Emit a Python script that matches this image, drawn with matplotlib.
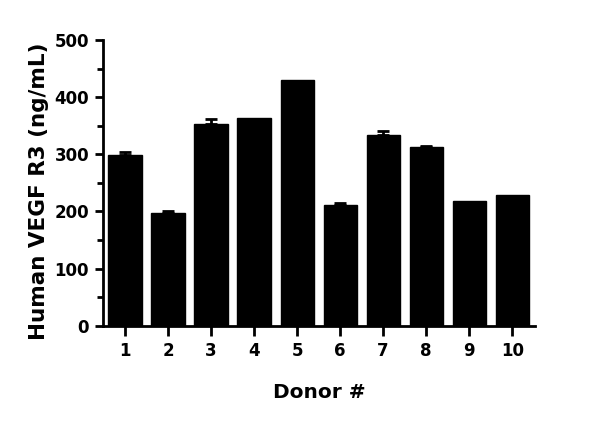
import numpy as np
from matplotlib import pyplot as plt
from matplotlib.ticker import MultipleLocator

# Values
donors = ['1', '2', '3', '4', '5', '6', '7', '8', '9', '10']
vegf_r3 = [298, 197, 353, 363, 430, 211, 334, 312, 218, 229]
vegf_err = [6, 3, 8, 0, 0, 3, 7, 3, 0, 0]

plt.rcParams['font.family'] = ['DejaVu Sans']
plt.rcParams['font.weight'] = 'bold'


def main():
    fig = plt.figure(figsize=(6, 4.24), dpi=100)
    ax = fig.add_axes([0.1717, 0.2318, 0.72, 0.674])

    x = np.arange(1, len(donors) + 1)
    ax.bar(x, vegf_r3, width=0.77, color='black', edgecolor='black', zorder=2)

    # only draw error bars where there is an error
    err = np.array(vegf_err, dtype=float)
    has_err = err > 0
    yerr = np.vstack([np.zeros(has_err.sum()), err[has_err]])
    ax.errorbar(x[has_err], np.array(vegf_r3)[has_err], yerr=yerr, fmt='none',
                ecolor='black', elinewidth=2, capsize=4.5, capthick=2, zorder=1)

    ax.set_xlim(0.49, 10.53)
    ax.set_ylim(0, 500)
    ax.set_xticks(x)
    ax.set_xticklabels(donors)
    ax.yaxis.set_major_locator(MultipleLocator(100))
    ax.yaxis.set_minor_locator(MultipleLocator(50))

    for side in ['top', 'right']:
        ax.spines[side].set_visible(False)
    for side in ['left', 'bottom']:
        ax.spines[side].set_linewidth(2)

    ax.tick_params(axis='both', which='major', length=6, width=2, labelsize=12, pad=4)
    ax.tick_params(axis='y', which='minor', length=4, width=2)
    ax.tick_params(axis='x', which='major', length=7, pad=5)

    ax.set_ylabel('Human VEGF R3 (ng/mL)', fontsize=15.5, fontweight='bold')
    ax.yaxis.set_label_coords(-0.125, 0.47)
    ax.set_xlabel('Donor #', fontsize=14.5, fontweight='bold', labelpad=16)

    plt.savefig('out.png', dpi=100)


if __name__ == '__main__':
    main()
